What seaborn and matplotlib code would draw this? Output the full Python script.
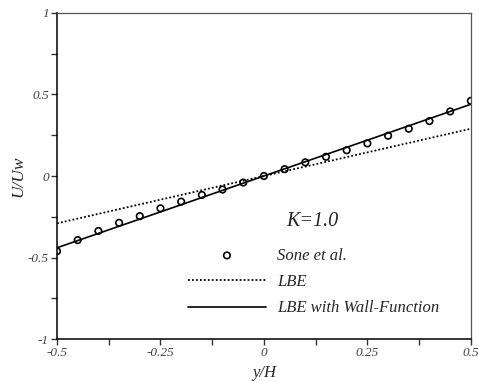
import numpy as np
import pandas as pd
import matplotlib
matplotlib.use("Agg")
import matplotlib.pyplot as plt
import seaborn as sns
from matplotlib.ticker import MultipleLocator

# Sone et al. reference points
sone_y = [-0.5, -0.45, -0.4, -0.35, -0.3, -0.25, -0.2, -0.15, -0.1, -0.05, 0.0,
          0.05, 0.1, 0.15, 0.2, 0.25, 0.3, 0.35, 0.4, 0.45, 0.5]
sone_u = [-0.461, -0.393, -0.337, -0.287, -0.246, -0.198, -0.157, -0.116, -0.083, -0.040, 0.0,
          0.042, 0.084, 0.118, 0.158, 0.200, 0.247, 0.290, 0.337, 0.396, 0.461]

# LBE (no wall function)
lbe_y = [-0.5, 0.0, 0.5]
lbe_u = [-0.29, 0.0, 0.29]

# LBE with wall function
wf_y = [-0.5, 0.0, 0.5]
wf_u = [-0.44, 0.0, 0.44]

sns.set_style("ticks")
plt.rcParams['font.family'] = ['Liberation Serif', 'DejaVu Serif']
plt.rcParams['font.style'] = 'italic'

fig = plt.figure(figsize=(4.79, 3.81), dpi=100)
ax = fig.add_axes([0.119, 0.110, 0.864, 0.856])

sns.lineplot(x=lbe_y, y=lbe_u, ax=ax, color='black', linestyle=(0, (1, 1.2)),
             linewidth=1.3, label='LBE')
sns.lineplot(x=wf_y, y=wf_u, ax=ax, color='black', linestyle='-',
             linewidth=1.2, label='LBE with Wall-Function')
sns.scatterplot(x=sone_y, y=sone_u, ax=ax, marker='o', s=22, facecolor='none',
                edgecolor='black', linewidth=1.2, label='Sone et al.', zorder=5)

ax.set_xlim(-0.5, 0.5)
ax.set_ylim(-1, 1)
ax.xaxis.set_major_locator(MultipleLocator(0.25))
ax.xaxis.set_minor_locator(MultipleLocator(0.125))
ax.yaxis.set_major_locator(MultipleLocator(0.5))
ax.yaxis.set_minor_locator(MultipleLocator(0.25))
ax.xaxis.set_major_formatter(plt.FuncFormatter(lambda v, p: ('%g' % v)))
ax.yaxis.set_major_formatter(plt.FuncFormatter(lambda v, p: ('%g' % v)))
ax.tick_params(which='both', direction='out', length=4, width=1.0, color='#333333',
               labelsize=9.5, labelcolor='#444444', pad=2)

for s in ['left', 'bottom']:
    ax.spines[s].set_color('black')
    ax.spines[s].set_linewidth(1.1)
for s in ['top', 'right']:
    ax.spines[s].set_visible(True)
    ax.spines[s].set_color('#555555')
    ax.spines[s].set_linewidth(0.9)

ax.set_xlabel('y/H', fontsize=12, labelpad=4)
ax.set_ylabel('U/Uw', fontsize=12.5, labelpad=1)

ax.text(0.055, -0.28, 'K=1.0', fontsize=14.5, ha='left', va='center')

h, l = ax.get_legend_handles_labels()
order = [2, 0, 1]
ax.legend([h[i] for i in order], [l[i] for i in order], loc='upper left',
          bbox_to_anchor=(0.316, 0.28), frameon=False, fontsize=12,
          handlelength=4.7, handletextpad=0.65, labelspacing=0.62,
          borderpad=0, borderaxespad=0, markerscale=1.0)

fig.savefig('out.png', dpi=100)
